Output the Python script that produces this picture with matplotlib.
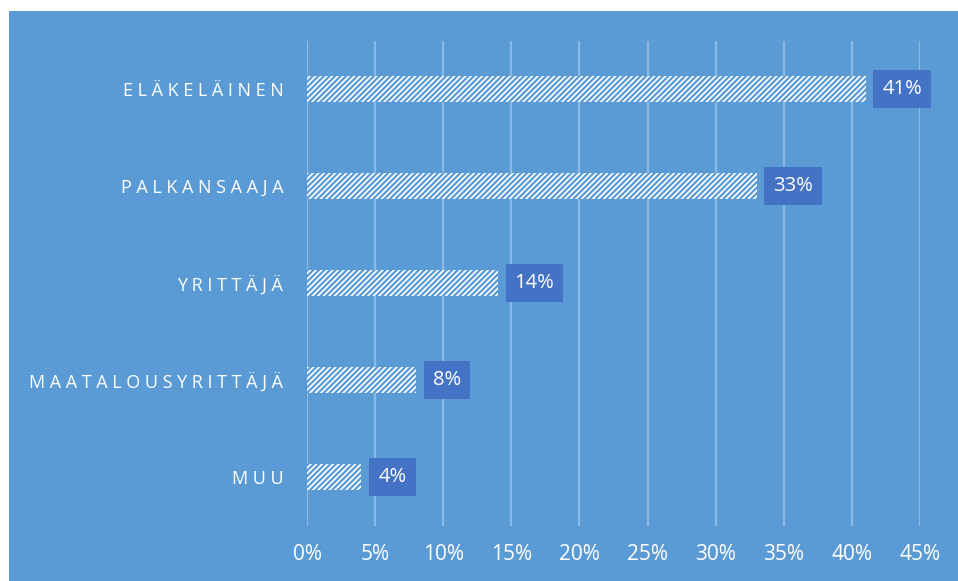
import matplotlib
matplotlib.use("Agg")
import matplotlib.pyplot as plt
from matplotlib.patches import Rectangle
from matplotlib.ticker import FuncFormatter

categories = ["ELÄKELÄINEN", "PALKANSAAJA", "YRITTÄJÄ", "MAATALOUSYRITTÄJÄ", "MUU"]
values = [41, 33, 14, 8, 4]
xticks = [0, 5, 10, 15, 20, 25, 30, 35, 40, 45]

BLUE = "#5B9BD5"
LABEL_BOX = "#4472C4"
GRID = "#8CB8E3"

plt.rcParams['font.family'] = ['Open Sans', 'DejaVu Sans']
plt.rcParams['hatch.linewidth'] = 1.6

W, H = 958, 581
fig = plt.figure(figsize=(W / 100, H / 100), dpi=100)
fig.patch.set_facecolor("white")
fig.patches.append(Rectangle((9 / W, 0), 1 - 9 / W, 1 - 11 / H, transform=fig.transFigure,
                             facecolor=BLUE, edgecolor="none", zorder=-10))

ax = fig.add_axes([307 / W, (H - 525.5) / H, (920 - 307) / W, (525.5 - 40.5) / H])
ax.set_zorder(1)
ax.set_facecolor("none")

ypos = list(range(len(categories)))
bars = ax.barh(ypos, values, height=0.27, color="white", edgecolor=BLUE,
               linewidth=0, hatch="//////", zorder=3)

ax.set_xlim(0, 45)
ax.set_ylim(len(categories) - 0.5, -0.5)
ax.set_xticks(xticks)
ax.xaxis.set_major_formatter(FuncFormatter(lambda v, p: f"{int(v)}%"))
ax.set_yticks(ypos)
ax.set_yticklabels([" ".join(list(c)) for c in categories])

ax.grid(axis="x", color=GRID, linewidth=1.6, zorder=1)
ax.tick_params(axis="x", length=0, labelcolor="white", labelsize=15, pad=13)
ax.tick_params(axis="y", length=0, labelcolor="white", labelsize=13, pad=17)
for s in ax.spines.values():
    s.set_visible(False)

for y, v in zip(ypos, values):
    ax.annotate(f"{v}%", xy=(v, y), xytext=(12.2, 0), textcoords="offset points",
                ha="left", va="center", color="white", fontsize=14.5,
                bbox=dict(boxstyle="square,pad=0.45", fc=LABEL_BOX, ec="none"),
                zorder=4)

fig.savefig("out.png", dpi=100)
